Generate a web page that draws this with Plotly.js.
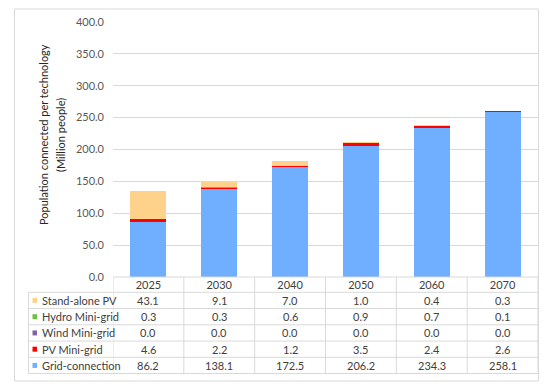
<!DOCTYPE html>
<html>
<head>
<meta charset="utf-8">
<script src="https://cdn.plot.ly/plotly-3.0.1.min.js"></script>
<style>html,body{margin:0;padding:0;background:#fff;}#chart{width:550px;height:389px;}</style>
</head>
<body>
<div id="chart"></div>
<script>
// ---- data ----
var years = ['2025', '2030', '2040', '2050', '2060', '2070'];
var seriesNames = ['Grid-connection', 'PV Mini-grid', 'Wind Mini-grid', 'Hydro Mini-grid', 'Stand-alone PV'];
var gridConnection = [86.2, 138.1, 172.5, 206.2, 234.3, 258.1];
var pvMiniGrid = [4.6, 2.2, 1.2, 3.5, 2.4, 2.6];
var windMiniGrid = [0.0, 0.0, 0.0, 0.0, 0.0, 0.0];
var hydroMiniGrid = [0.3, 0.3, 0.6, 0.9, 0.7, 0.1];
var standAlonePV = [43.1, 9.1, 7.0, 1.0, 0.4, 0.3];
var seriesColors = ['#70AEFF', '#FF0000', '#8064A2', '#70C040', '#FFD28C'];
var yTickVals = [0, 50, 100, 150, 200, 250, 300, 350, 400];
var yTitleLines = ['Population connected per technology', '(Million people)'];

var seriesValues = [gridConnection, pvMiniGrid, windMiniGrid, hydroMiniGrid, standAlonePV];

// ---- geometry (pixels) ----
var W = 550, H = 389;
var mL = 113, mR = 12, mT = 22, mB = 112;
var plotW = W - mL - mR, plotH = H - mT - mB;
function px2x(px) { return (px - mL) / plotW; }
function px2y(py) { return (H - mB - py) / plotH; }

var lineCol = '#D9D9D9';
var fontFam = 'Lato, "Open Sans", sans-serif';

var traces = seriesNames.map(function (name, i) {
  return {
    type: 'bar', name: name, x: years, y: seriesValues[i],
    marker: { color: seriesColors[i], line: { width: 0 } },
    width: 0.51, hoverinfo: 'x+y+name'
  };
});

var shapes = [], annotations = [];
// outer chart frame
shapes.push({ type: 'rect', xref: 'paper', yref: 'paper', x0: px2x(14.5), x1: px2x(538.5), y0: px2y(381), y1: px2y(9), line: { color: lineCol, width: 1 } });

// table
var tableLeft = 28.5, headerTop = 277, rowTop = 292.3, rowH = 16.25;
var displayOrder = [4, 3, 2, 1, 0]; // table rows top to bottom
var nRows = displayOrder.length;
var tableBottom = rowTop + nRows * rowH;
shapes.push({ type: 'line', xref: 'paper', yref: 'paper', x0: 0, x1: 1, y0: px2y(headerTop), y1: px2y(headerTop), line: { color: lineCol, width: 1 } });
for (var r = 0; r <= nRows; r++) {
  var yy = px2y(rowTop + r * rowH);
  shapes.push({ type: 'line', xref: 'paper', yref: 'paper', x0: px2x(tableLeft), x1: 1, y0: yy, y1: yy, line: { color: lineCol, width: 1 } });
}
shapes.push({ type: 'line', xref: 'paper', yref: 'paper', x0: px2x(tableLeft), x1: px2x(tableLeft), y0: px2y(rowTop), y1: px2y(tableBottom), line: { color: lineCol, width: 1 } });
for (var c = 0; c <= years.length; c++) {
  shapes.push({ type: 'line', xref: 'x', yref: 'paper', x0: c - 0.5, x1: c - 0.5, y0: px2y(headerTop), y1: px2y(tableBottom), line: { color: lineCol, width: 1 } });
}
displayOrder.forEach(function (si, r) {
  var cy = rowTop + (r + 0.5) * rowH;
  shapes.push({ type: 'rect', xref: 'paper', yref: 'paper', x0: px2x(32.5), x1: px2x(37), y0: px2y(cy + 2.5), y1: px2y(cy - 2.5), fillcolor: seriesColors[si], line: { width: 0 } });
  annotations.push({ xref: 'paper', yref: 'paper', x: px2x(40), y: px2y(cy), xanchor: 'left', yanchor: 'middle', text: seriesNames[si], showarrow: false, font: { family: fontFam, size: 11, color: '#404040' } });
  years.forEach(function (yr, ci) {
    annotations.push({ xref: 'x', yref: 'paper', x: ci, y: px2y(cy), xanchor: 'center', yanchor: 'middle', text: seriesValues[si][ci].toFixed(1), showarrow: false, font: { family: fontFam, size: 11, color: '#404040' } });
  });
});

// y-axis title (two lines)
var titleX = [43, 60];
yTitleLines.forEach(function (t, i) {
  annotations.push({ xref: 'paper', yref: 'paper', x: px2x(titleX[i]), y: px2y(135), xanchor: 'center', yanchor: 'middle', textangle: -90,
    text: t, showarrow: false, font: { family: fontFam, size: 11, color: '#262626' } });
});

var layout = {
  width: W, height: H,
  margin: { l: mL, r: mR, t: mT, b: mB, pad: 0 },
  paper_bgcolor: '#fff', plot_bgcolor: '#fff',
  barmode: 'stack', showlegend: false,
  font: { family: fontFam, size: 11, color: '#595959' },
  xaxis: { type: 'category', range: [-0.5, 5.5], showgrid: false, zeroline: false, showline: false, ticks: '', tickfont: { family: fontFam, size: 11, color: '#404040' }, fixedrange: true },
  yaxis: { range: [0, 400], tickvals: yTickVals, tickformat: '.1f', showgrid: true, gridcolor: lineCol, gridwidth: 1, zeroline: false, showline: false, ticks: '', ticklabelstandoff: 8, tickfont: { family: fontFam, size: 11, color: '#595959' }, fixedrange: true },
  shapes: shapes, annotations: annotations
};

Plotly.newPlot('chart', traces, layout, { displayModeBar: false, staticPlot: true });
</script>
</body>
</html>
